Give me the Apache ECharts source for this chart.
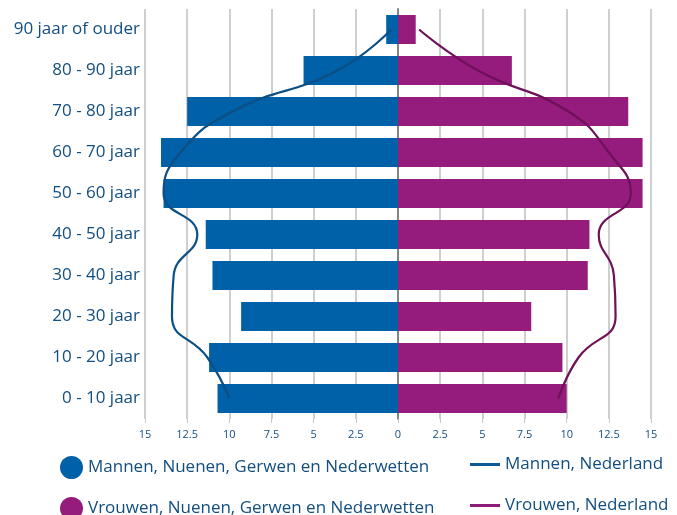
<!DOCTYPE html>
<html>
<head>
<meta charset="utf-8">
<script src="https://cdn.jsdelivr.net/npm/echarts@6/dist/echarts.min.js"></script>
<style>
  html, body { margin: 0; padding: 0; background: #fff; }
  #chart { width: 677px; height: 515px; }
</style>
</head>
<body>
<div id="chart"></div>
<script>
// age groups, bottom to top
const ageGroups = ['0 - 10 jaar', '10 - 20 jaar', '20 - 30 jaar', '30 - 40 jaar', '40 - 50 jaar',
  '50 - 60 jaar', '60 - 70 jaar', '70 - 80 jaar', '80 - 90 jaar', '90 jaar of ouder'];

// percentages (men shown to the left)
const mannenLokaal = [10.7, 11.2, 9.3, 11.0, 11.4, 13.9, 14.05, 12.5, 5.6, 0.7];
const vrouwenLokaal = [10.0, 9.75, 7.9, 11.25, 11.35, 14.5, 14.5, 13.65, 6.75, 1.05];
const mannenNL = [10.0, 11.3, 13.4, 13.3, 11.9, 13.9, 12.9, 9.8, 3.6, 0.4];
const vrouwenNL = [9.5, 10.7, 12.9, 12.8, 11.9, 13.8, 12.5, 10.1, 4.75, 1.25];

const legendNames = ['Mannen, Nuenen, Gerwen en Nederwetten', 'Vrouwen, Nuenen, Gerwen en Nederwetten',
  'Mannen, Nederland', 'Vrouwen, Nederland'];

const textColor = '#124e80';
const font = 'Open Sans';

const chart = echarts.init(document.getElementById('chart'));

const lineIcon = 'path://M0,0 L30,0 L30,3 L0,3 Z';

function legendAt(name, left, top, isLine) {
  return {
    left: left, top: top,
    itemWidth: isLine ? 30 : 23, itemHeight: 23,
    icon: isLine ? lineIcon : 'circle',
    itemGap: 0,
    textStyle: { color: textColor, fontSize: 17, fontFamily: font },
    data: [name]
  };
}

chart.setOption({
  animation: false,
  textStyle: { fontFamily: font },
  grid: { left: 145, right: 26, top: 9, bottom: 96 },
  xAxis: {
    type: 'value',
    min: -15,
    max: 15,
    interval: 2.5,
    axisLine: { show: false },
    axisTick: { show: true, length: 4, lineStyle: { color: '#c8c8c8' } },
    axisLabel: {
      color: textColor, fontSize: 11, margin: 10,
      formatter: v => String(Math.abs(v))
    },
    splitLine: { lineStyle: { color: '#cfcfcf', width: 2 } }
  },
  yAxis: {
    type: 'category',
    data: ageGroups,
    axisLine: { onZero: true, lineStyle: { color: '#858585', width: 2 } },
    axisTick: { show: false },
    axisLabel: { color: textColor, fontSize: 17, margin: 5 }
  },
  legend: [
    legendAt(legendNames[0], 55, 451, false),
    legendAt(legendNames[1], 55, 492, false),
    legendAt(legendNames[2], 465, 451, true),
    legendAt(legendNames[3], 465, 492, true)
  ],
  series: [
    {
      name: legendNames[0],
      type: 'bar',
      barWidth: 29,
      barGap: '-100%',
      itemStyle: { color: '#0061a8' },
      data: mannenLokaal.map(v => -v)
    },
    {
      name: legendNames[1],
      type: 'bar',
      barWidth: 29,
      barGap: '-100%',
      itemStyle: { color: '#951b7c' },
      data: vrouwenLokaal
    },
    {
      name: legendNames[2],
      type: 'line',
      smooth: 0.5,
      showSymbol: false,
      lineStyle: { color: '#0b4f84', width: 2.2 },
      itemStyle: { color: '#0b5a96' },
      data: mannenNL.map(v => -v)
    },
    {
      name: legendNames[3],
      type: 'line',
      smooth: 0.5,
      showSymbol: false,
      lineStyle: { color: '#6d1159', width: 2.2 },
      itemStyle: { color: '#8e1b78' },
      data: vrouwenNL
    }
  ]
});
</script>
</body>
</html>
